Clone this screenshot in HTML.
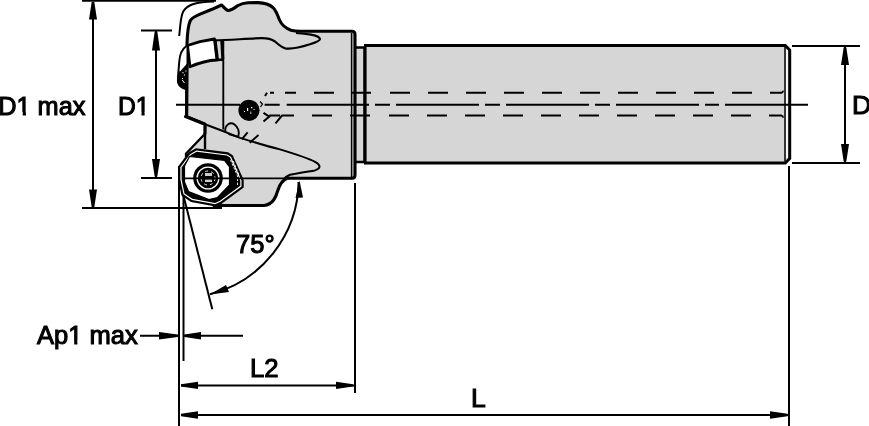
<!DOCTYPE html>
<html><head><meta charset="utf-8">
<style>
html,body{margin:0;padding:0;background:#fff;width:869px;height:426px;overflow:hidden}
svg{display:block}
text{font-family:"Liberation Sans",sans-serif;font-size:26.5px;fill:#000;stroke:#000;stroke-width:1.1px}
</style></head><body>
<svg style="will-change:transform" width="869" height="426" viewBox="0 0 869 426">
<!-- ===== shank ===== -->
<path d="M364,45.5 L785.3,45.5 L789.7,50 L789.7,158.5 L785.3,163 L364,163" fill="#d6d6d6" stroke="#000" stroke-width="3"/>
<line x1="785" y1="47" x2="785" y2="161.5" stroke="#000" stroke-width="1.5"/>
<rect x="786.2" y="50" width="1.6" height="108" fill="#fff"/>
<!-- collar -->
<path d="M356,47.5 L364.5,47.5 L364.5,162 L356,162" fill="#d6d6d6" stroke="#000" stroke-width="2.6"/>
<line x1="365.6" y1="44.5" x2="365.6" y2="164" stroke="#000" stroke-width="2"/>

<!-- ===== head body ===== -->
<path d="M187,64 L187,44 C187.3,33 188.3,25 190.2,20.8 C191.8,17.8 195,16.2 199.5,14.4 L212,9.3 L221.5,5 C224,7 226,10.5 228.5,10.5 C231,10.5 235,7.5 238,5.5 C241,3.8 244,3 248,2.7 L258,2.6 C264,2.8 269,4 273,7.5 C276.5,11 277.8,16 279.5,20 C281.5,24.5 285,28 291,30.2 C294,31.1 297,31.3 300,31.3 L352,31.3 Q355,31.3 355,34.5 L355,175 Q355,178.3 352,178.3 L287,178.3 C283,180 280,184 278,190 C276,197 273,204.5 264,205.5 L214,205.5 L200,150 L205,133 L205,124.3 L185.5,116.5 L186.5,116.5 Z" fill="#d6d6d6" stroke="#000" stroke-width="3.1" stroke-linejoin="round"/>
<path d="M186.8,64 L186.8,116.5 L205,124" fill="none" stroke="#000" stroke-width="2.8"/>
<line x1="351.6" y1="33" x2="351.6" y2="177" stroke="#000" stroke-width="1.5"/>

<!-- flute upper teardrop -->
<path d="M214,40.5 C230,40.2 250,38.3 262,38.2 C268,38.2 272,39.5 275,41.5 C278,44 281,47 285,48.3 C290,49.3 300,47.5 310,44.3 C315,42.7 320,41 320,39.3 C320,37.5 316,35.5 311,34.6 C305,33.7 300,33.3 296,33" fill="none" stroke="#000" stroke-width="2.2"/>
<!-- flute lower diagonal / teardrop -->
<path d="M205,124.3 C215,128 228,133 240,137.9 C255,142.5 270,147 280,149.4 C295,154 308,158 315,161.8 C321,165 321,168.5 315,170.4 C305,172 296,173.2 290,174.8 C287,176 285,177.5 283.5,179.5" fill="none" stroke="#000" stroke-width="2"/>
<!-- vertical seat line -->
<line x1="223.3" y1="40" x2="223.3" y2="129.5" stroke="#000" stroke-width="1.9"/>
<!-- oval -->
<path d="M225.3,131.8 C224.5,125 230,121.5 234.5,124.5 C238,127 240,132 238.2,137 M228.5,134.2 L237.5,136.6" fill="none" stroke="#000" stroke-width="1.9"/>
<path d="M242,139.2 L247.6,132.4 M249.7,142.8 L258.5,135" fill="none" stroke="#000" stroke-width="2"/>

<!-- top insert -->
<path d="M187.5,45.5 L200,41.7 L214.5,39 L217,60 C208,60.3 199,62.8 190,66.8 Z" fill="#fff" stroke="#000" stroke-width="2.8" stroke-linejoin="round"/>
<path d="M215,39.5 L217.5,60" stroke="#000" stroke-width="3"/>
<path d="M221.7,40 L222.8,59" stroke="#000" stroke-width="3"/>
<path d="M217,60 L224,59.5" stroke="#000" stroke-width="2.5"/>
<!-- claw -->
<path d="M186.5,46 C182,49 179.7,54 179.2,62 C178.7,70 177.7,77 178,82 C178.6,85 181.5,88 186.5,89.3" fill="#fff" stroke="#000" stroke-width="2"/>
<path d="M187.5,63 L180.5,71 L178.2,72 L178.2,84.5 L180.5,87.2 L184,89 L187,89.8 Z" fill="#000"/>
<path d="M182.2,80 L184.5,83" stroke="#fff" stroke-width="1"/>
<g fill="#fff"><rect x="182.5" y="72" width="1" height="1.3"/><rect x="184" y="74.5" width="1" height="1"/><rect x="182" y="78" width="1" height="1"/><rect x="185.5" y="70.5" width="0.9" height="1.2"/></g>
<!-- outer envelope -->
<path d="M214,1.5 C206,1.8 199,2.5 193.5,4 C189,5.5 185.5,8 183.5,11 C181.5,14.5 180.8,20 180.2,26 L179.2,36" fill="none" stroke="#000" stroke-width="2"/>

<!-- pocket sliver -->
<path d="M205,133 L205,149 L188,153 Z" fill="#d6d6d6"/>
<line x1="205" y1="126" x2="205" y2="149" stroke="#000" stroke-width="2.4"/>
<polyline points="203.8,135 186,153.8 186,157" fill="none" stroke="#000" stroke-width="2.3"/>

<!-- ===== hex insert ===== -->
<polygon points="196,148.3 228,152.3 232.7,155.3 243.7,180 243.7,187.5 222,203.5 215.5,206.5 191,202 181.5,195.5 178.2,180 178.2,166.5 188.5,152.5" fill="#000"/>
<polygon points="196.4,150.6 190.0,154.2 180.4,167.2 180.4,179.8 183.5,194.2 191.9,199.9 215.2,204.2 220.9,201.6 241.5,186.4 241.5,180.5 231.0,156.8 227.2,154.4" fill="#fff"/>
<polygon points="196.7,151.8 190.8,155.1 181.6,167.6 181.6,179.6 184.5,193.5 192.3,198.8 215.1,203.0 220.3,200.6 240.3,185.8 240.3,180.7 230.0,157.6 226.8,155.6" fill="#000"/>
<g stroke="#fff" stroke-width="0.9" fill="none" stroke-dasharray="2.5 1.5">
<path d="M230.5,160 L237.5,176 L237.5,186"/>
<path d="M233.2,161 L239,175"/>
</g>
<polygon points="189.5,156.5 224.5,160.3 229.5,167 229.5,185 217.5,197.5 209,199.5 188.5,191.5 184.5,182 184.5,166" fill="#fff" stroke="#000" stroke-width="1.2"/>
<!-- screw -->
<circle cx="208" cy="178" r="14.8" fill="#000"/>
<circle cx="208" cy="178" r="10.9" fill="none" stroke="#fff" stroke-width="1.3"/>
<circle cx="208" cy="178" r="7" fill="none" stroke="#fff" stroke-width="0.9" stroke-dasharray="3 3"/>
<rect x="205" y="173" width="7" height="3" fill="#ccc"/>
<rect x="205" y="179.5" width="7" height="2.5" fill="#ccc"/>

<!-- insert seat line through -->
<line x1="183" y1="178.3" x2="290" y2="178.3" stroke="#000" stroke-width="1.8"/>

<!-- ===== hole ===== -->
<circle cx="249" cy="110.3" r="10.6" fill="#000"/>
<g fill="#fff"><rect x="247" y="108" width="1.2" height="3"/><rect x="251" y="107" width="1.3" height="1.3"/><rect x="244" y="111" width="1" height="1"/><rect x="250" y="111.5" width="1.5" height="2.5" fill="#888"/><rect x="253.5" y="109" width="1" height="1"/></g>
<path d="M260,101.5 L262.5,104 L260.5,107" fill="none" stroke="#000" stroke-width="1.3"/>

<!-- ===== hidden lines ===== -->
<g stroke="#000" stroke-width="2">
<path d="M265,96 L267,92.7 M270,92.7 L274,92.7 M285,92.7 L296,92.7 M314,92.7 L334,92.7 M352,92.7 L371,92.7"/>
<path d="M263.5,112.8 L269.3,116.6 L263.5,121.6 M269.3,115.6 L280,115.6 M275.5,123.3 L282,115.6 L294,115.6 M312,115.6 L332,115.6 M350,115.6 L370,115.6" fill="none"/>
<line x1="390" y1="92.7" x2="781.5" y2="92.7" stroke-dasharray="20 18"/>
<line x1="389" y1="115.6" x2="781.5" y2="115.6" stroke-dasharray="20 18"/>
<path d="M781,92.7 Q783,92.7 783.2,90.6 M781,115.6 Q783,115.6 783.2,117.8" fill="none" stroke-width="1.6"/>
<path d="M176,104.8 L240,104.8 M264.6,104.8 L279.7,104.8 M286.7,104.8 L369,104.8 M375,104.8 L390,104.8 M396,104.8 L479,104.8 M485,104.8 L500,104.8 M506,104.8 L589,104.8 M595,104.8 L610,104.8 M616,104.8 L699,104.8 M705,104.8 L719,104.8 M725,104.8 L808,104.8"/>
</g>

<!-- ===== dimensions ===== -->
<g stroke="#000" stroke-width="2" fill="none">
<line x1="82" y1="0.8" x2="216" y2="0.8"/>
<line x1="82" y1="208.1" x2="222" y2="208.1"/>
<line x1="93" y1="2" x2="93" y2="207"/>
<line x1="141" y1="30.5" x2="172" y2="30.5"/>
<line x1="141" y1="178" x2="172" y2="178"/>
<line x1="156" y1="31" x2="156" y2="177"/>
<line x1="792" y1="46" x2="860" y2="46"/>
<line x1="792" y1="163" x2="860" y2="163"/>
<line x1="845" y1="47" x2="845" y2="162"/>
<line x1="179" y1="166" x2="179" y2="426"/>
<line x1="183.5" y1="196" x2="183.5" y2="361"/>
<line x1="355" y1="183" x2="355" y2="393"/>
<line x1="789" y1="166" x2="789" y2="426"/>
<line x1="181" y1="385.4" x2="354" y2="385.4"/>
<line x1="181" y1="415" x2="788" y2="415"/>
<line x1="140" y1="335.8" x2="178" y2="335.8"/>
<line x1="184" y1="335.8" x2="243" y2="335.8"/>
<line x1="183.4" y1="195.5" x2="212.3" y2="309.3" stroke-width="2"/>
<path d="M298.6,182 A118,118 0 0 1 210,294.3" stroke-width="2"/>
</g>
<g fill="#000">
<polygon points="91.7,2 94.3,2 97.0,19.5 89.0,19.5"/>
<polygon points="91.7,207 94.3,207 97.0,189.6 89.0,189.6"/>
<polygon points="154.7,31.5 157.3,31.5 160.0,50.5 152.0,50.5"/>
<polygon points="154.7,176.5 157.3,176.5 160.0,159 152.0,159"/>
<polygon points="843.7,47.5 846.3,47.5 849.0,65 841.0,65"/>
<polygon points="843.7,161.5 846.3,161.5 849.0,144 841.0,144"/>
<polygon points="177.5,334.6 177.5,337.0 159,339.5 159,332.1"/>
<polygon points="184.5,334.6 184.5,337.0 201,339.5 201,332.1"/>
<polygon points="181,384.2 181,386.6 198,389.1 198,381.7"/>
<polygon points="353,384.2 353,386.6 336,389.1 336,381.7"/>
<polygon points="181,413.8 181,416.2 198,418.7 198,411.3"/>
<polygon points="787.5,413.8 787.5,416.2 770,418.7 770,411.3"/>
<polygon points="299.5,180.5 295.5,198 303,197.5"/>
<polygon points="209.7,294.5 226,285 229,292"/>
</g>

<!-- ===== text ===== -->
<text x="-1.8" y="115" textLength="87.2" lengthAdjust="spacingAndGlyphs">D1 max</text>
<text x="117.9" y="115" textLength="31.5" lengthAdjust="spacingAndGlyphs">D1</text>
<text x="852" y="114.2">D</text>
<text x="37" y="343.5" textLength="100.8" lengthAdjust="spacingAndGlyphs">Ap1 max</text>
<text x="236" y="253.3" textLength="38.6" lengthAdjust="spacingAndGlyphs">75°</text>
<text x="250" y="376.7" textLength="28.6" lengthAdjust="spacingAndGlyphs">L2</text>
<text x="471" y="407.1">L</text>
<g fill="#fff">
<rect x="16.6" y="111.8" width="6.13" height="4.4"/><rect x="25.95" y="111.8" width="6" height="4.4"/>
<rect x="136.2" y="111.8" width="5.28" height="4.4"/><rect x="144.62" y="111.8" width="5.5" height="4.4"/>
<rect x="68.4" y="340.8" width="5.76" height="4.4"/><rect x="77.4" y="340.8" width="5.5" height="4.4"/>
</g>
</svg>
</body></html>
